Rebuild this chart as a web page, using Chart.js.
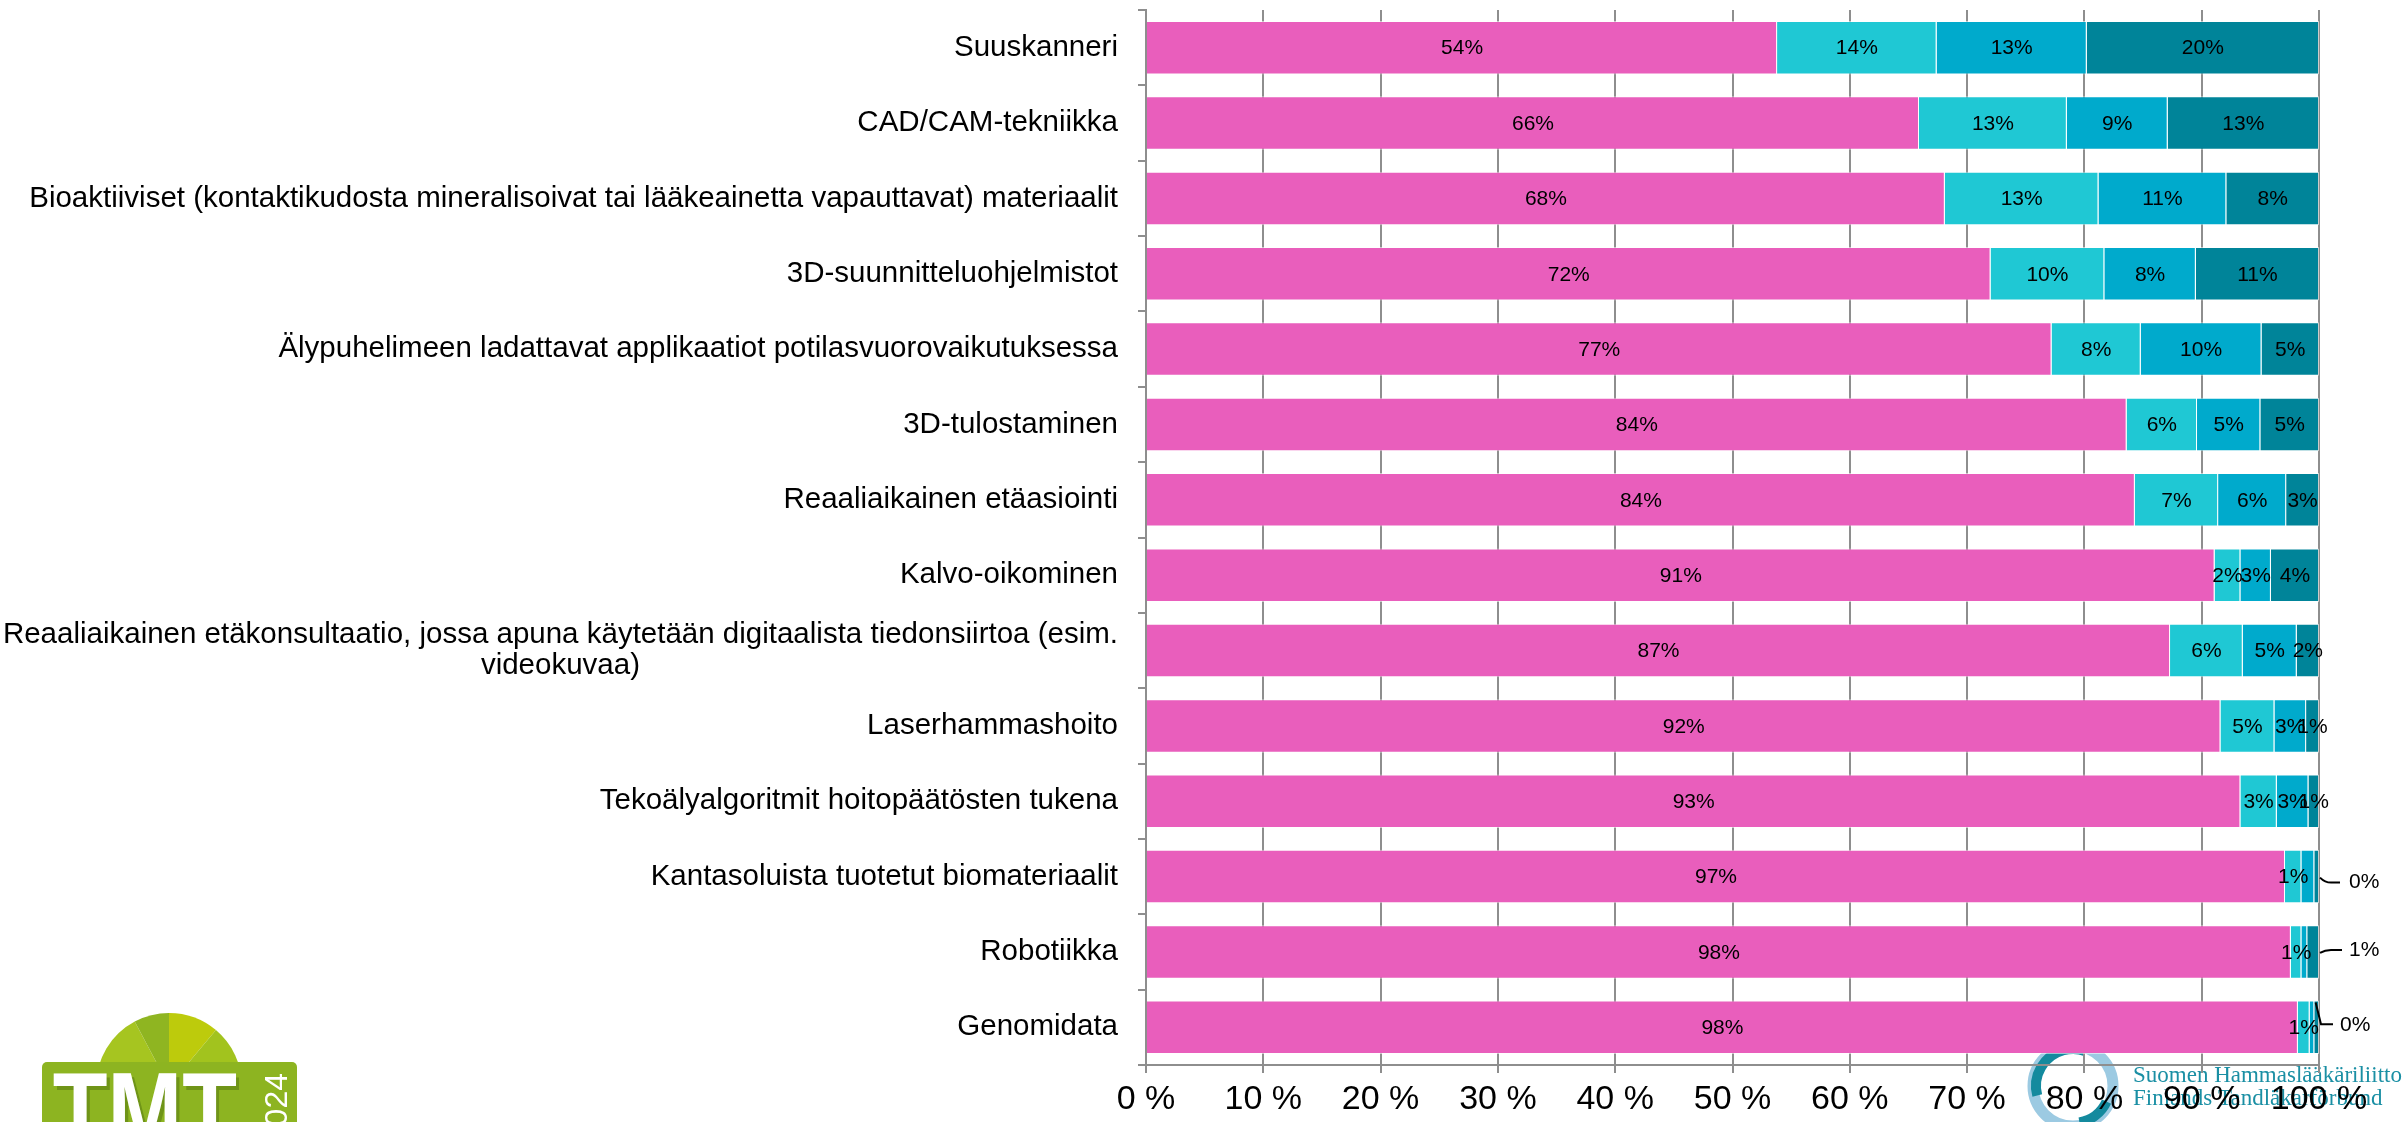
<!DOCTYPE html>
<html lang="fi">
<head>
<meta charset="utf-8">
<title>Teknologiat</title>
<script src="https://cdn.jsdelivr.net/npm/chart.js@4/dist/chart.umd.min.js"></script>
<style>
  html, body { margin: 0; padding: 0; background: #fff; }
  #wrap { position: relative; width: 2405px; height: 1122px; }
</style>
</head>
<body>
<div id="wrap"><canvas id="techChart"></canvas></div>
<script>
const categories = [
  'Suuskanneri',
  'CAD/CAM-tekniikka',
  'Bioaktiiviset (kontaktikudosta mineralisoivat tai lääkeainetta vapauttavat) materiaalit',
  '3D-suunnitteluohjelmistot',
  'Älypuhelimeen ladattavat applikaatiot potilasvuorovaikutuksessa',
  '3D-tulostaminen',
  'Reaaliaikainen etäasiointi',
  'Kalvo-oikominen',
  ['Reaaliaikainen etäkonsultaatio, jossa apuna käytetään digitaalista tiedonsiirtoa (esim.', 'videokuvaa)'],
  'Laserhammashoito',
  'Tekoälyalgoritmit hoitopäätösten tukena',
  'Kantasoluista tuotetut biomateriaalit',
  'Robotiikka',
  'Genomidata',
];

const seriesNames = ['Ryhmä 1', 'Ryhmä 2', 'Ryhmä 3', 'Ryhmä 4'];
const series1 = [53.8, 65.9, 68.1, 72.0, 77.2, 83.6, 84.3, 91.1, 87.3, 91.6, 93.3, 97.1, 97.6, 98.2];
const series2 = [13.6, 12.6, 13.1, 9.7, 7.6, 6.0, 7.1, 2.2, 6.2, 4.6, 3.1, 1.4, 0.9, 1.0];
const series3 = [12.8, 8.6, 10.9, 7.8, 10.3, 5.4, 5.8, 2.6, 4.6, 2.7, 2.7, 1.1, 0.5, 0.4];
const series4 = [19.8, 12.9, 7.9, 10.5, 4.9, 5.0, 2.8, 4.1, 1.9, 1.1, 0.9, 0.4, 1.0, 0.4];

const xTickMin = 0;
const xTickMax = 100;
const xTickStep = 10;

const colors = ['#e95ebc', '#1fc8d4', '#00aacc', '#008499'];
const gridColor = '#8e8e8e';
const fontFamily = "'Liberation Sans', Arial, sans-serif";

// small segments in the last rows: hide some labels, put others outside the bar
const hiddenLabels = { 2: [11, 12, 13] };
const outsideLabels = { 3: [11, 12, 13] };

function pct(v) {
  return `${Math.round(v)}%`;
}

// logos under the plot, drawn first so axis text sits on top of them
const logoPlugin = {
  id: 'logos',
  beforeDraw(chart) {
    const ctx = chart.ctx;
    ctx.save();

    // green badge, bottom left
    const cx = 169, cy = 1086, r = 73;
    const wedgeColors = ['#a6c520', '#8fb521', '#bdcb0c', '#a2c31e'];
    const cuts = [-180, -118, -90, -50, 0].map((a) => (a * Math.PI) / 180);
    for (let i = 0; i < 4; i++) {
      ctx.beginPath();
      ctx.moveTo(cx, cy);
      ctx.arc(cx, cy, r, cuts[i], cuts[i + 1]);
      ctx.closePath();
      ctx.fillStyle = wedgeColors[i];
      ctx.fill();
    }
    ctx.fillStyle = '#8db421';
    ctx.beginPath();
    ctx.roundRect(42, 1062, 255, 80, 5);
    ctx.fill();

    ctx.fillStyle = '#6f9418';
    ctx.font = `bold 112px ${fontFamily}`;
    ctx.textBaseline = 'alphabetic';
    ctx.save();
    ctx.translate(56, 1154);
    ctx.scale(0.8, 1);
    ctx.fillText('TMT', 0, 0);
    ctx.fillStyle = '#ffffff';
    ctx.fillText('TMT', -4, -4);
    ctx.restore();

    ctx.save();
    ctx.translate(287, 1073);
    ctx.rotate(-Math.PI / 2);
    ctx.fillStyle = '#ffffff';
    ctx.font = `32px ${fontFamily}`;
    ctx.textAlign = 'right';
    ctx.fillText('2024', 0, 0);
    ctx.restore();

    // ring and name, bottom right
    const rx = 2073, ry = 1086;
    ctx.lineWidth = 11;
    ctx.strokeStyle = '#9ccae2';
    ctx.beginPath();
    ctx.arc(rx, ry, 40, 0, Math.PI * 2);
    ctx.stroke();
    ctx.strokeStyle = '#148a9e';
    ctx.lineWidth = 10;
    ctx.beginPath();
    ctx.arc(rx, ry, 37, (165 * Math.PI) / 180, (290 * Math.PI) / 180);
    ctx.stroke();
    ctx.beginPath();
    ctx.arc(rx, ry, 37, (25 * Math.PI) / 180, (80 * Math.PI) / 180);
    ctx.stroke();

    ctx.fillStyle = '#1a8fa4';
    ctx.font = "23px 'Liberation Serif', 'DejaVu Serif', serif";
    ctx.textAlign = 'left';
    ctx.fillText('Suomen Hammaslääkäriliitto', 2133, 1082);
    ctx.fillText('Finlands Tandläkarförbund', 2133, 1105);

    ctx.restore();
  },
};

// category names: right aligned, wrapped names centred within their own block
const categoryLabelPlugin = {
  id: 'categoryLabels',
  afterDraw(chart) {
    const ctx = chart.ctx;
    const yScale = chart.scales.y;
    const right = yScale.right - 28;
    const lineGap = 31;
    ctx.save();
    ctx.font = `29.5px ${fontFamily}`;
    ctx.fillStyle = '#000';
    ctx.textBaseline = 'middle';
    categories.forEach((label, i) => {
      const y = yScale.getPixelForValue(i);
      const lines = Array.isArray(label) ? label : [label];
      const blockW = Math.max(...lines.map((l) => ctx.measureText(l).width));
      const top = y - ((lines.length - 1) * lineGap) / 2;
      if (lines.length === 1) {
        ctx.textAlign = 'right';
        ctx.fillText(lines[0], right, y);
      } else {
        ctx.textAlign = 'center';
        lines.forEach((l, k) => ctx.fillText(l, right - blockW / 2, top + k * lineGap));
      }
    });
    ctx.restore();
  },
};

// value labels inside each segment, plus the leader-line ones past the bar end
const valueLabelPlugin = {
  id: 'valueLabels',
  afterDatasetsDraw(chart) {
    const ctx = chart.ctx;
    ctx.save();
    ctx.font = `21px ${fontFamily}`;
    ctx.fillStyle = '#000';
    ctx.strokeStyle = '#000';
    ctx.lineWidth = 2;
    ctx.textBaseline = 'middle';
    chart.data.datasets.forEach((ds, d) => {
      const meta = chart.getDatasetMeta(d);
      meta.data.forEach((bar, i) => {
        if ((hiddenLabels[d] || []).includes(i)) return;
        const text = pct(ds.data[i]);
        if ((outsideLabels[d] || []).includes(i)) {
          const end = bar.x;
          const y = bar.y;
          const isLast = i === categories.length - 1;
          ctx.beginPath();
          if (isLast) {
            const mid = (bar.x + bar.base) / 2;
            ctx.moveTo(mid - 1, y - bar.height / 2 + 2);
            ctx.lineTo(end + 2, y - 3);
            ctx.lineTo(end + 14, y - 3);
          } else if (i === categories.length - 2) {
            ctx.moveTo(end + 1, y + 1);
            ctx.quadraticCurveTo(end + 6, y - 2, end + 12, y - 2);
            ctx.lineTo(end + 23, y - 2);
          } else {
            ctx.moveTo(end + 1, y + 1);
            ctx.quadraticCurveTo(end + 6, y + 6, end + 12, y + 6);
            ctx.lineTo(end + 21, y + 6);
          }
          ctx.stroke();
          ctx.textAlign = 'left';
          ctx.fillText(text, end + (isLast ? 21 : 30), isLast ? y - 2 : y + (i === categories.length - 2 ? -2 : 6));
          return;
        }
        ctx.textAlign = 'center';
        ctx.fillText(text, (bar.x + bar.base) / 2, bar.y + 1);
      });
    });
    ctx.restore();
  },
};

const seriesData = [series1, series2, series3, series4];

new Chart(document.getElementById('techChart'), {
  type: 'bar',
  data: {
    labels: categories,
    datasets: seriesData.map((data, k) => ({
      label: seriesNames[k],
      data,
      backgroundColor: colors[k],
      borderColor: 'rgba(255,255,255,0.55)',
      borderWidth: { left: 0, right: 1, top: 1, bottom: 1 },
      borderSkipped: false,
      barPercentage: 0.71,
      categoryPercentage: 1,
    })),
  },
  options: {
    indexAxis: 'y',
    responsive: true,
    maintainAspectRatio: false,
    devicePixelRatio: 1,
    animation: false,
    layout: { padding: { top: 10, right: 86, bottom: 0, left: 0 } },
    plugins: {
      legend: { display: false },
      tooltip: { enabled: false },
    },
    scales: {
      x: {
        stacked: true,
        min: xTickMin,
        max: xTickMax,
        afterFit(scale) {
          scale.height = 57;
        },
        ticks: {
          stepSize: xTickStep,
          color: '#000',
          padding: 6,
          maxRotation: 0,
          font: { family: fontFamily, size: 34 },
          callback(value) {
            return `${value} %`;
          },
        },
        grid: { color: gridColor, lineWidth: 2, tickLength: 8 },
        border: { color: gridColor, width: 2 },
      },
      y: {
        stacked: true,
        afterFit(scale) {
          scale.width = 1146;
        },
        ticks: { display: false },
        grid: { offset: true, drawOnChartArea: false, color: gridColor, lineWidth: 2, tickLength: 8 },
        border: { color: gridColor, width: 2 },
      },
    },
  },
  plugins: [logoPlugin, categoryLabelPlugin, valueLabelPlugin],
});
</script>
</body>
</html>
